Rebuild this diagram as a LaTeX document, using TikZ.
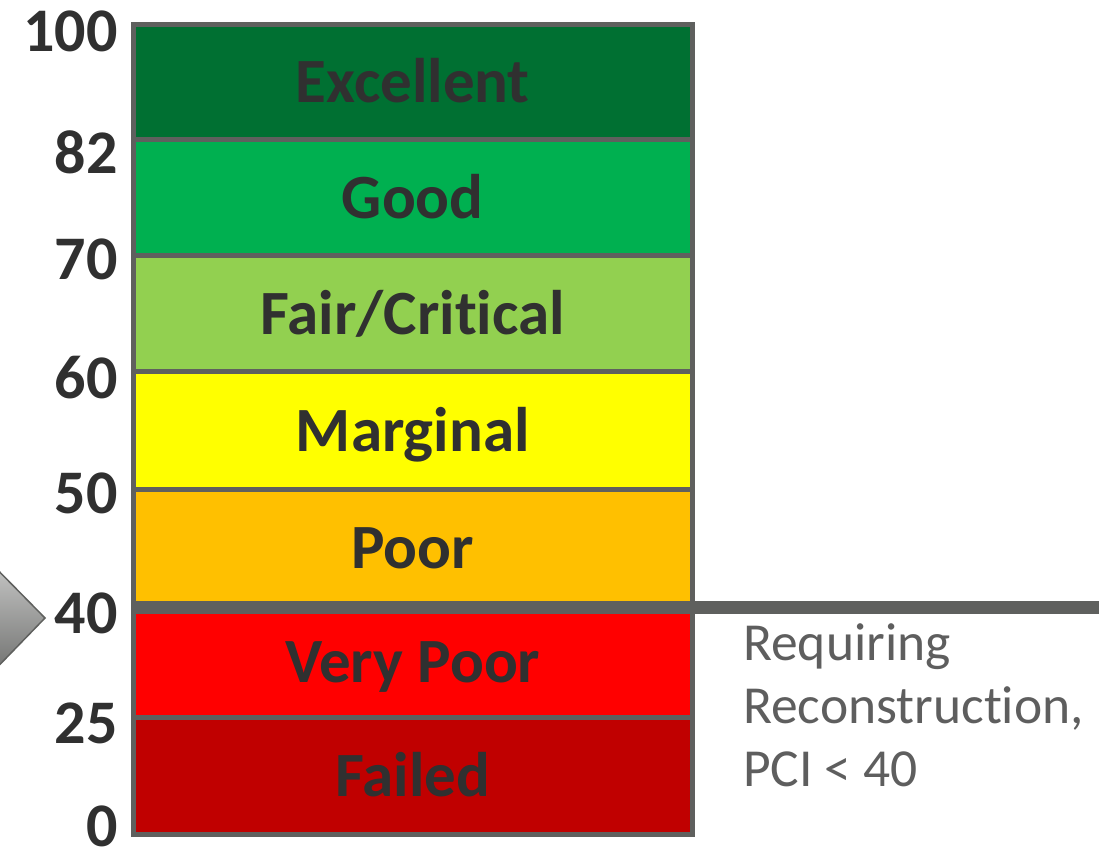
\documentclass[tikz,border=0pt]{standalone}
\usepackage{fontspec}
\setmainfont{Carlito}[Ligatures=NoCommon]

\definecolor{rimgray}{HTML}{5F605E}
\definecolor{inkgray}{HTML}{303030}
\definecolor{notegray}{HTML}{5E5E5E}
\definecolor{pciexcellent}{RGB}{0,112,50}
\definecolor{pcigood}{RGB}{0,176,80}
\definecolor{pcifair}{RGB}{146,208,80}
\definecolor{pcimarginal}{RGB}{255,255,0}
\definecolor{pcipoor}{RGB}{255,192,0}
\definecolor{pciverypoor}{RGB}{255,0,0}
\definecolor{pcifailed}{RGB}{192,0,0}

\tikzstyle{band} = [draw=rimgray, line width=5pt, minimum width=559.5pt, inner sep=0pt, outer sep=0pt,
    text height=40.6pt, text depth=0pt, text=inkgray, font=\fontsize{63}{75}\selectfont\bfseries]
\tikzstyle{tick} = [anchor=east, inner sep=0pt, text=inkgray, font=\fontsize{62}{74}\selectfont\bfseries]
\tikzstyle{note} = [anchor=north west, inner sep=0pt, align=left, text=notegray, font=\fontsize{53.5}{63}\selectfont]

\begin{document}
\begin{tikzpicture}[x=1pt, y=1pt]
\useasboundingbox (0,0) rectangle (1099,846);

% condition bands, top edge / bottom edge measured from the top
\foreach \i/\ya/\yb/\col/\txt in {1/24.5/140/pciexcellent/Excellent,
                                  2/140/256/pcigood/Good,
                                  3/256/372/pcifair/{Fair/Critical},
                                  4/372/489.5/pcimarginal/Marginal,
                                  5/489.5/607.5/pcipoor/Poor,
                                  6/607.5/717.5/pciverypoor/Very Poor,
                                  7/717.5/834.5/pcifailed/Failed}
    \node[band, fill=\col, minimum height={\yb-\ya}] (b\i) at (412.75, {846-(\ya+\yb)/2}) {\txt};

% scale values
\foreach \v/\yc in {100/31, 82/152, 70/259, 60/378, 50/493, 40/613, 25/723, 0/826}
    \node[tick] (v\v) at (118, {846-\yc}) {\v};

% reconstruction threshold
\coordinate (railend) at (1099, 238.5);
\draw[rimgray, line width=13pt] (b5.south west) -- (railend);

\shade[top color=rimgray!30, bottom color=rimgray!95, draw=rimgray, line width=1.5pt]
    (-20, 294) -- (45, 228) -- (-20, 161) -- cycle;

\node[note] (pcinote) at (743, 223) {Requiring\\Reconstruction,\\PCI < 40};
\end{tikzpicture}
\end{document}
